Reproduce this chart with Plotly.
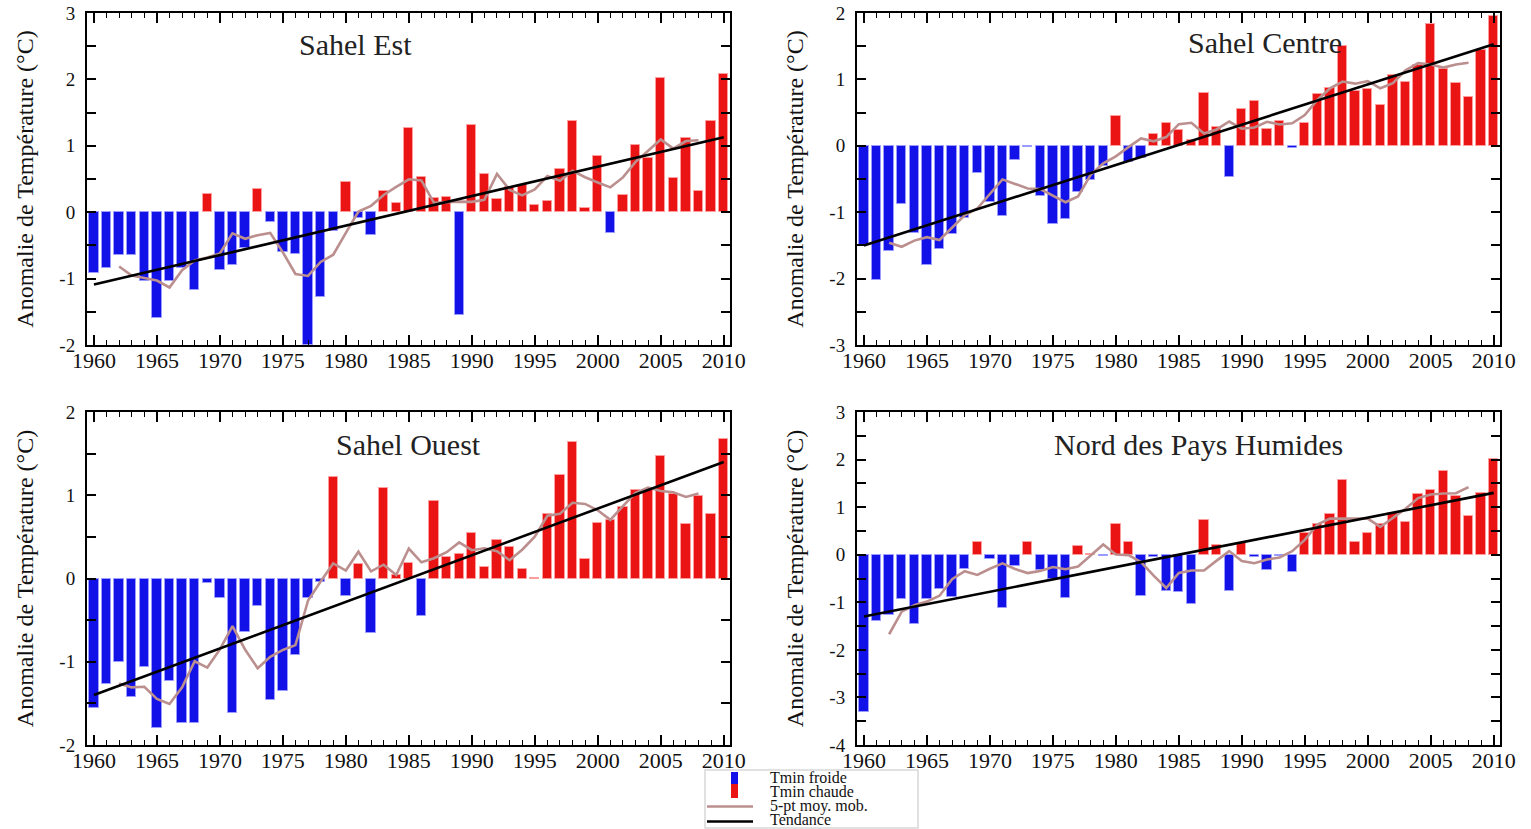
import numpy as np
import plotly.graph_objects as go

# ---------------- data ----------------
years = list(range(1960, 2011))

sahel_est = [-0.92, -0.84, -0.65, -0.65, -1.03, -1.60, -1.03, -0.84, -1.17, 0.27,
             -0.87, -0.80, -0.54, 0.35, -0.14, -0.60, -0.63, -2.00, -1.28, -0.29,
             0.45, -0.08, -0.35, 0.32, 0.14, 1.27, 0.53, 0.22, 0.23, -1.55,
             1.32, 0.58, 0.20, 0.38, 0.41, 0.11, 0.17, 0.65, 1.38, 0.06,
             0.85, -0.31, 0.26, 1.01, 0.81, 2.02, 0.52, 1.12, 0.32, 1.38, 2.08]

sahel_centre = [-1.49, -2.02, -1.59, -0.88, -1.32, -1.79, -1.56, -1.33, -1.09, -0.41,
                -0.84, -1.05, -0.21, -0.02, -0.75, -1.18, -1.10, -0.70, -0.52, -0.31,
                0.45, -0.24, -0.18, 0.18, 0.34, 0.24, 0.08, 0.79, 0.28, -0.47,
                0.55, 0.68, 0.25, 0.37, -0.04, 0.34, 0.78, 0.87, 1.50, 0.83,
                0.86, 0.62, 1.06, 0.96, 1.22, 1.83, 1.16, 0.95, 0.73, 1.45, 1.96]

sahel_ouest = [-1.55, -1.27, -1.00, -1.42, -1.06, -1.79, -1.23, -1.73, -1.73, -0.05,
               -0.23, -1.61, -0.64, -0.33, -1.46, -1.35, -0.92, -0.23, -0.04, 1.22,
               -0.21, 0.17, -0.66, 1.09, 0.04, 0.19, -0.45, 0.93, 0.26, 0.29,
               0.55, 0.14, 0.46, 0.38, 0.11, 0.01, 0.77, 1.24, 1.64, 0.23,
               0.67, 0.70, 0.86, 1.06, 1.06, 1.47, 1.01, 0.65, 0.99, 0.78, 1.67]

nord_pays_humides = [-3.31, -1.39, -1.27, -0.93, -1.46, -0.93, -0.73, -0.88, -0.31, 0.27,
                     -0.08, -1.13, -0.23, 0.26, -0.32, -0.51, -0.90, 0.18, 0.02, -0.03,
                     0.64, 0.26, -0.86, -0.05, -0.76, -0.79, -1.04, 0.73, 0.20, -0.76,
                     0.25, -0.04, -0.32, -0.03, -0.36, 0.45, 0.64, 0.86, 1.57, 0.27,
                     0.45, 0.64, 0.87, 0.69, 1.27, 1.36, 1.76, 1.24, 0.81, 1.29, 2.01]

panel_titles = ["Sahel Est", "Sahel Centre", "Sahel Ouest", "Nord des Pays Humides"]
panel_series = [sahel_est, sahel_centre, sahel_ouest, nord_pays_humides]

# linear trend read at its two ends (1960 and 2010)
trend_years = [1960, 2010]
trend_start = [-1.09, -1.50, -1.40, -1.30]
trend_end = [1.13, 1.53, 1.40, 1.30]

y_ranges = [[-2, 3], [-3, 2], [-2, 2], [-4, 3]]
x_tick_values = list(range(1960, 2011, 5))
x_tick_labels = [str(v) for v in x_tick_values]

legend_labels = ["Tmin froide", "Tmin chaude", "5-pt moy. mob.", "Tendance"]
y_title = "Anomalie de Température (°C)"

# ---------------- styling ----------------
W, H = 1531, 829
FONT = "Liberation Serif, Times New Roman, serif"
COLD = "#1212e8"
WARM = "#ea1414"
MA_COLOR = "#bc8f8f"

# panel boxes in pixels: (left, right, top, bottom)
boxes = [(87, 730, 13, 345), (857, 1500, 13, 345),
         (87, 730, 412, 745), (857, 1500, 412, 745)]
title_pos = [(355, 45), (1265, 43), (408, 445), (1198, 445)]

fig = go.Figure()
layout = dict()
annotations = []

for i, (vals, yr) in enumerate(zip(panel_series, y_ranges)):
    n = i + 1
    xa = "x" if n == 1 else f"x{n}"
    ya = "y" if n == 1 else f"y{n}"
    v = np.array(vals)
    cold = [x if x < 0 else None for x in vals]
    warm = [x if x >= 0 else None for x in vals]
    fig.add_trace(go.Bar(x=years, y=cold, width=0.74, xaxis=xa, yaxis=ya,
                         marker=dict(color=COLD, line=dict(color="#9a9aff", width=1)),
                         name=legend_labels[0], showlegend=False))
    fig.add_trace(go.Bar(x=years, y=warm, width=0.74, xaxis=xa, yaxis=ya,
                         marker=dict(color=WARM, line=dict(color="#ff9c9c", width=1)),
                         name=legend_labels[1], showlegend=False))
    # 5-point centred moving average of the plotted anomalies
    ma = np.convolve(v, np.ones(5) / 5.0, mode="valid")
    fig.add_trace(go.Scatter(x=years[2:-2], y=ma, mode="lines", xaxis=xa, yaxis=ya,
                             line=dict(color=MA_COLOR, width=2.6),
                             name=legend_labels[2], showlegend=False))
    fig.add_trace(go.Scatter(x=trend_years, y=[trend_start[i], trend_end[i]], mode="lines",
                             xaxis=xa, yaxis=ya, line=dict(color="black", width=2.6),
                             name=legend_labels[3], showlegend=False))

    l, r, t, b = boxes[i]
    yt = np.arange(yr[0], yr[1] + 0.001, 0.5)
    yl = [str(int(round(q))) if abs(q - round(q)) < 1e-6 else "" for q in yt]
    layout["xaxis" if n == 1 else f"xaxis{n}"] = dict(
        domain=[l / W, r / W], anchor=ya, range=[1959.45, 2010.5],
        tickvals=x_tick_values, ticktext=x_tick_labels,
        ticks="inside", ticklen=10, tickwidth=1.5, tickcolor="black",
        minor=dict(dtick=1, ticks="inside", ticklen=5, tickwidth=1.2, tickcolor="black"),
        showline=True, linecolor="black", linewidth=2, mirror="ticks",
        showgrid=False, zeroline=False, ticklabelstandoff=-5,
        tickfont=dict(family=FONT, size=22, color="#111"))
    layout["yaxis" if n == 1 else f"yaxis{n}"] = dict(
        domain=[1 - b / H, 1 - t / H], anchor=xa, range=yr,
        tickvals=list(yt), ticktext=yl,
        ticks="inside", ticklen=9, tickwidth=1.5, tickcolor="black",
        showline=True, linecolor="black", linewidth=2, mirror="ticks",
        showgrid=False, zeroline=False, ticklabelstandoff=6,
        tickfont=dict(family=FONT, size=19, color="#111"),
        title=dict(text=y_title, font=dict(family=FONT, size=24, color="#111"), standoff=19))
    tx, ty = title_pos[i]
    annotations.append(dict(x=tx / W, y=1 - ty / H, xref="paper", yref="paper",
                            text=panel_titles[i], showarrow=False,
                            xanchor="center", yanchor="middle",
                            font=dict(family=FONT, size=30, color="#222")))

# ---------------- hand-drawn legend box (bottom centre) ----------------
shapes = [
    dict(type="rect", xref="paper", yref="paper", x0=705 / W, x1=918 / W,
         y0=1 - 828 / H, y1=1 - 770 / H, line=dict(color="#d8d8d8", width=1.5),
         fillcolor="white", layer="above"),
    dict(type="rect", xref="paper", yref="paper", x0=731 / W, x1=738 / W,
         y0=1 - 784 / H, y1=1 - 772 / H, line=dict(width=0), fillcolor=COLD),
    dict(type="rect", xref="paper", yref="paper", x0=731 / W, x1=738 / W,
         y0=1 - 798 / H, y1=1 - 784 / H, line=dict(width=0), fillcolor=WARM),
    dict(type="line", xref="paper", yref="paper", x0=707 / W, x1=753 / W,
         y0=1 - 806.5 / H, y1=1 - 806.5 / H, line=dict(color=MA_COLOR, width=2.6)),
    dict(type="line", xref="paper", yref="paper", x0=707 / W, x1=753 / W,
         y0=1 - 821.5 / H, y1=1 - 821.5 / H, line=dict(color="black", width=2.6)),
]
legend_rows = [777.5, 791.5, 805.5, 819.5]
for lab, yy in zip(legend_labels, legend_rows):
    annotations.append(dict(x=768 / W, y=1 - yy / H, xref="paper", yref="paper",
                            text=lab, showarrow=False, xanchor="left", yanchor="middle",
                            font=dict(family=FONT, size=16, color="#111")))

fig.update_layout(
    **layout,
    width=W, height=H, template="none",
    margin=dict(l=0, r=0, t=0, b=0),
    paper_bgcolor="white", plot_bgcolor="white",
    barmode="relative", bargap=0,
    showlegend=False,
    annotations=annotations, shapes=shapes,
    font=dict(family=FONT, color="#111"),
)

fig.write_html("out.html", config={"displayModeBar": False},
               post_script="document.body.style.margin='0';document.body.style.padding='0';")
